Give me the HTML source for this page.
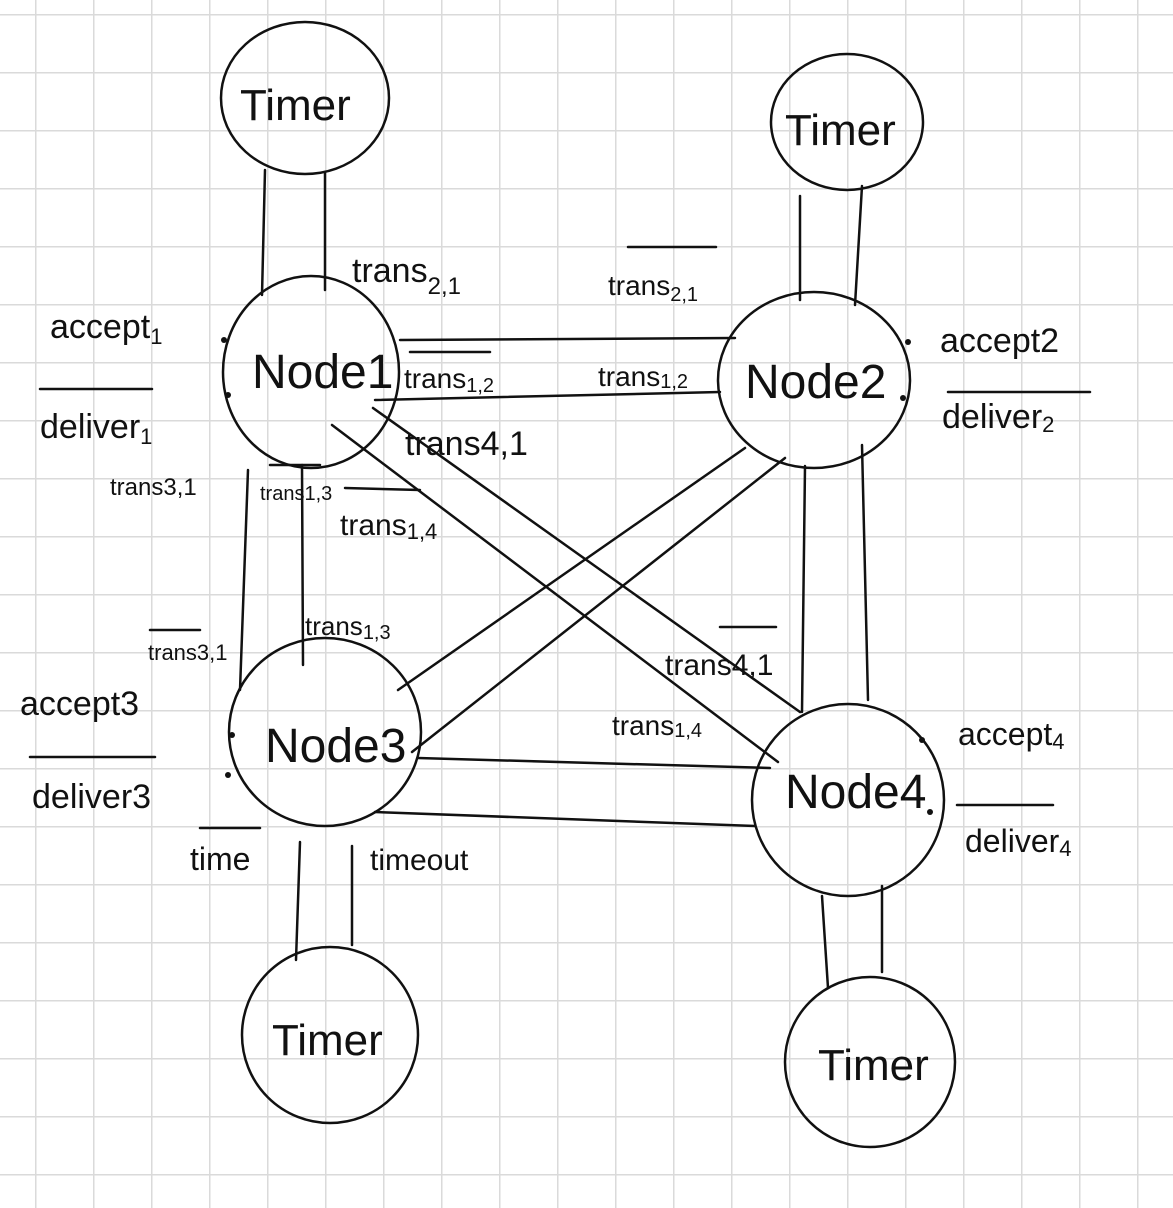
<!DOCTYPE html>
<html><head><meta charset="utf-8"><style>
html,body{margin:0;padding:0;background:#fff}
svg{display:block}
text{font-family:"Liberation Sans",sans-serif;fill:#111}
</style></head><body>
<svg width="1173" height="1208" viewBox="0 0 1173 1208" xmlns="http://www.w3.org/2000/svg">
<defs>
<pattern id="g" x="35" y="14" width="58" height="58" patternUnits="userSpaceOnUse">
<path d="M0 0 H58 M0 0 V58" stroke="#dadada" stroke-width="3" fill="none"/>
</pattern>
</defs>
<rect width="1173" height="1208" fill="#fff"/>
<rect width="1173" height="1208" fill="url(#g)"/>
<g fill="none" stroke="#111" stroke-width="2.5" stroke-linecap="round">
<!-- circles -->
<ellipse cx="305" cy="98" rx="84" ry="76"/>
<ellipse cx="847" cy="122" rx="76" ry="68"/>
<ellipse cx="311" cy="372" rx="88" ry="96"/>
<ellipse cx="814" cy="380" rx="96" ry="88"/>
<ellipse cx="325" cy="732" rx="96" ry="94"/>
<ellipse cx="848" cy="800" rx="96" ry="96"/>
<ellipse cx="330" cy="1035" rx="88" ry="88"/>
<ellipse cx="870" cy="1062" rx="85" ry="85"/>
<!-- timer links -->
<path d="M265 170 L262 295 M325 172 L325 290"/>
<path d="M800 196 L800 300 M862 186 L855 305"/>
<path d="M300 842 L296 960 M352 846 L352 945"/>
<path d="M822 896 L828 988 M882 886 L882 972"/>
<!-- node links -->
<path d="M400 340 L735 338 M375 400 L720 392"/>
<path d="M248 470 L240 690 M302 465 L303 665"/>
<path d="M373 408 L800 712 M332 425 L778 762"/>
<path d="M745 448 L398 690 M785 458 L412 752"/>
<path d="M805 466 L802 712 M862 445 L868 700"/>
<path d="M418 758 L770 768 M375 812 L755 826"/>
<!-- overbars -->
<path d="M628 247 L716 247 M40 389 L152 389 M30 757 L155 757 M957 805 L1053 805 M948 392 L1090 392 M410 352 L490 352 M720 627 L776 627 M345 488 L420 490 M200 828 L260 828 M150 630 L200 630 M270 465 L320 465"/>
</g>
<g fill="#111"><circle cx="224" cy="340" r="3"/><circle cx="228" cy="395" r="3"/><circle cx="908" cy="342" r="3"/><circle cx="903" cy="398" r="3"/><circle cx="232" cy="735" r="3"/><circle cx="228" cy="775" r="3"/><circle cx="922" cy="740" r="3"/><circle cx="930" cy="812" r="3"/></g>
<g font-size="44">
<text x="240" y="120">Timer</text>
<text x="785" y="145">Timer</text>
<text x="272" y="1055">Timer</text>
<text x="818" y="1080">Timer</text>
<text x="252" y="388" font-size="48">Node1</text>
<text x="745" y="398" font-size="48">Node2</text>
<text x="265" y="762" font-size="48">Node3</text>
<text x="785" y="808" font-size="48">Node4</text>
</g>
<g font-size="34">
<text x="352" y="282">trans<tspan font-size="24" dy="12">2,1</tspan></text>
<text x="608" y="295" font-size="28">trans<tspan font-size="20" dy="6">2,1</tspan></text>
<text x="50" y="338">accept<tspan font-size="22" dy="6">1</tspan></text>
<text x="40" y="438">deliver<tspan font-size="22" dy="6">1</tspan></text>
<text x="940" y="352">accept2</text>
<text x="942" y="428">deliver<tspan font-size="22" dy="4">2</tspan></text>
<text x="404" y="388" font-size="28">trans<tspan font-size="20" dy="4">1,2</tspan></text>
<text x="598" y="386" font-size="28">trans<tspan font-size="20" dy="2">1,2</tspan></text>
<text x="405" y="455">trans4,1</text>
<text x="110" y="495" font-size="24">trans3,1</text>
<text x="260" y="500" font-size="20">trans1,3</text>
<text x="340" y="535" font-size="30">trans<tspan font-size="22" dy="4">1,4</tspan></text>
<text x="148" y="660" font-size="22">trans3,1</text>
<text x="305" y="635" font-size="26">trans<tspan font-size="20" dy="4">1,3</tspan></text>
<text x="665" y="675" font-size="30">trans4,1</text>
<text x="612" y="735" font-size="28">trans<tspan font-size="20" dy="2">1,4</tspan></text>
<text x="20" y="715">accept3</text>
<text x="32" y="808">deliver3</text>
<text x="958" y="745" font-size="32">accept<tspan font-size="22" dy="4">4</tspan></text>
<text x="965" y="852" font-size="32">deliver<tspan font-size="22" dy="4">4</tspan></text>
<text x="190" y="870" font-size="32">time</text>
<text x="370" y="870" font-size="30">timeout</text>
</g>
</svg>
</body></html>
